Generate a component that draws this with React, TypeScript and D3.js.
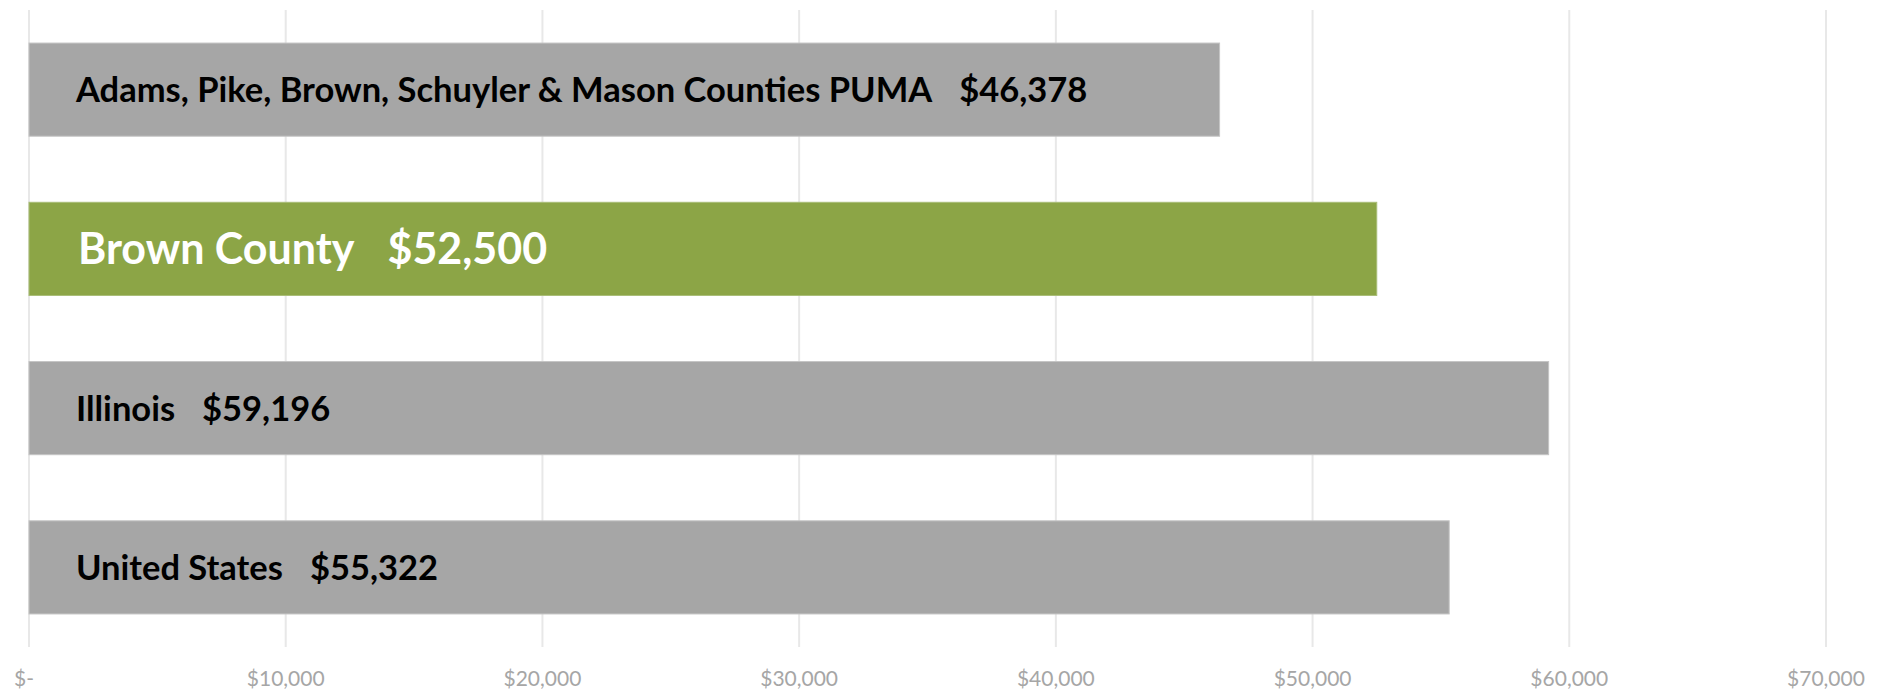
import React from "react";
import * as d3 from "d3";

// Median household income by geography
const categories = [
  "Adams, Pike, Brown, Schuyler & Mason Counties PUMA",
  "Brown County",
  "Illinois",
  "United States",
];
const incomes = [46378, 52500, 59196, 55322];
const highlighted = "Brown County";
const tickValues = [0, 10000, 20000, 30000, 40000, 50000, 60000, 70000];

const W = 1887;
const H = 691;
const margin = { top: 10, right: 61, bottom: 44, left: 29 };

const grey = "#a6a6a6";
const green = "#8ca546";

const fmtMoney = d3.format("$,");
const fmtTick = (v: number) => (v === 0 ? "$-" : fmtMoney(v));

const App: React.FC = () => {
  const x = d3
    .scaleLinear()
    .domain([0, 70000])
    .range([margin.left, W - margin.right]);

  const y = d3
    .scaleBand<string>()
    .domain(categories)
    .range([margin.top, H - margin.bottom])
    .paddingInner(0.415)
    .paddingOuter(0.2075);

  const rows = categories.map((name, i) => ({ name, value: incomes[i] }));

  return (
    <svg
      width={W}
      height={H}
      style={{ position: "absolute", left: 0, top: 0, background: "#fff" }}
    >
      {/* gridlines */}
      <g>
        {tickValues.map((t) => (
          <line
            key={t}
            x1={x(t)}
            x2={x(t)}
            y1={margin.top}
            y2={H - margin.bottom}
            stroke="#e8e8e8"
            strokeWidth={2}
          />
        ))}
      </g>

      {/* bars */}
      <g>
        {rows.map((d) => (
          <rect
            key={d.name}
            x={x(0)}
            y={y(d.name)!}
            width={x(d.value) - x(0)}
            height={y.bandwidth()}
            fill={d.name === highlighted ? green : grey}
            stroke={d.name === highlighted ? "#a9bd77" : "#c4c4c4"}
            strokeWidth={1}
          />
        ))}
      </g>

      {/* labels inside bars */}
      <g>
        {rows.map((d) => {
          const hi = d.name === highlighted;
          return (
            <text
              key={d.name}
              x={x(0) + (hi ? 49 : 47)}
              y={y(d.name)! + y.bandwidth() / 2}
              dy="0.36em"
              fontFamily="Lato, 'Open Sans', sans-serif"
              fontWeight="bold"
              fontSize={hi ? 43 : 34.5}
              fill={hi ? "#ffffff" : "#000000"}
            >
              <tspan>{d.name}</tspan>
              <tspan dx={hi ? 33 : 27}>{fmtMoney(d.value)}</tspan>
            </text>
          );
        })}
      </g>

      {/* x axis tick labels */}
      <g>
        {tickValues.map((t) => (
          <text
            key={t}
            x={x(t) + (t === 0 ? -5 : 0)}
            y={686}
            textAnchor="middle"
            fontFamily="Lato, sans-serif"
            fontSize={21}
            fill="#a6a6a6"
          >
            {fmtTick(t)}
          </text>
        ))}
      </g>
    </svg>
  );
};

export default App;
